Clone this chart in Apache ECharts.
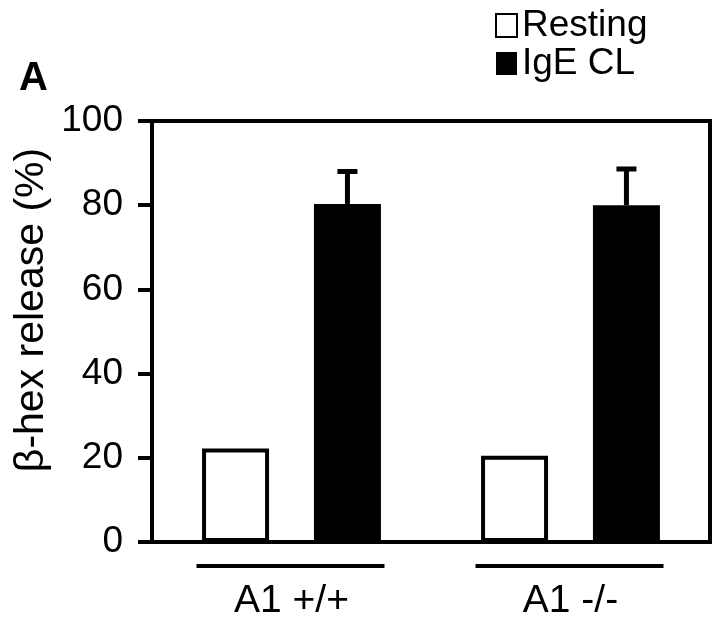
<!DOCTYPE html>
<html>
<head>
<meta charset="utf-8">
<script src="https://cdn.jsdelivr.net/npm/echarts@6/dist/echarts.min.js"></script>
<style>html,body{margin:0;padding:0;background:#fff}#c{width:720px;height:622px}</style>
</head>
<body>
<div id="c"></div>
<script>
const categories = ['A1 +/+', 'A1 -/-'];
const seriesNames = ['Resting', 'IgE CL'];
const restingValues = [22.2, 20.5];
const igeValues = [80.3, 80.0];
const igeErrors = [7.7, 8.6];
const yTicks = [0, 20, 40, 60, 80, 100];
const yAxisTitle = 'β-hex release (%)';
const panelLabel = 'A';

const FONT = '"Liberation Sans", Arial, Helvetica, sans-serif';
const BAR_W = 67;
const BAR_GAP = 0.67;

const chart = echarts.init(document.getElementById('c'));

chart.setOption({
  animation: false,
  backgroundColor: '#fff',
  title: {
    text: panelLabel, left: 14, top: 54,
    textStyle: { fontFamily: FONT, fontSize: 40, fontWeight: 'bold', color: '#000' }
  },
  legend: {
    orient: 'vertical', left: 490, top: 2, itemWidth: 21, itemHeight: 23, itemGap: 1,
    icon: 'rect',
    data: seriesNames,
    textStyle: { fontFamily: FONT, fontSize: 37, color: '#000', padding: [0, 0, 0, 0] }
  },
  grid: {
    left: 152, right: 10, top: 121, bottom: 80,
    show: true, borderColor: '#000', borderWidth: 4, backgroundColor: 'transparent'
  },
  xAxis: {
    type: 'category', data: categories,
    axisLine: { show: true, lineStyle: { color: '#000', width: 4 } },
    axisTick: { show: false },
    axisLabel: { margin: 40, fontFamily: FONT, fontSize: 39, color: '#000' }
  },
  yAxis: {
    type: 'value', min: yTicks[0], max: yTicks[yTicks.length - 1], interval: 20,
    axisLine: { show: true, lineStyle: { color: '#000', width: 4 } },
    axisTick: { show: true, length: 14, lineStyle: { color: '#000', width: 4 } },
    axisLabel: { margin: 29, fontFamily: FONT, fontSize: 37, color: '#000' },
    splitLine: { show: false }
  },
  graphic: [{
    type: 'text', x: 32, y: 310, rotation: Math.PI / 2,
    style: { text: yAxisTitle, font: '41px ' + FONT, fill: '#000', align: 'center', verticalAlign: 'middle' }
  }],
  series: [
    {
      name: seriesNames[0], type: 'bar', data: restingValues,
      barWidth: BAR_W, barGap: (BAR_GAP * 100) + '%',
      itemStyle: { color: '#fff', borderColor: '#000', borderWidth: 4 }
    },
    {
      name: seriesNames[1], type: 'bar', data: igeValues,
      barWidth: BAR_W,
      itemStyle: { color: '#000', borderColor: '#000', borderWidth: 0 }
    },
    {
      type: 'custom', name: 'err', silent: true, z: 5,
      data: igeValues.map((v, i) => [i, v, v + igeErrors[i]]),
      renderItem: function (params, api) {
        const c = api.coord([api.value(0), api.value(1)]);
        const t = api.coord([api.value(0), api.value(2)]);
        const off = (BAR_W + BAR_W * BAR_GAP) / 2;
        const x = c[0] + off;
        return {
          type: 'group',
          children: [
            { type: 'line', shape: { x1: x, y1: c[1], x2: x, y2: t[1] }, style: { stroke: '#000', lineWidth: 5 } },
            { type: 'line', shape: { x1: x - 10, y1: t[1], x2: x + 10, y2: t[1] }, style: { stroke: '#000', lineWidth: 5 } }
          ]
        };
      }
    },
    {
      type: 'custom', name: 'underline', silent: true, clip: false,
      data: categories.map((c, i) => [i, 0]),
      renderItem: function (params, api) {
        const p = api.coord([api.value(0), api.value(1)]);
        return {
          type: 'line',
          shape: { x1: p[0] - 95, y1: p[1] + 24, x2: p[0] + 93, y2: p[1] + 24 },
          style: { stroke: '#000', lineWidth: 4 }
        };
      }
    }
  ]
});
</script>
</body>
</html>
